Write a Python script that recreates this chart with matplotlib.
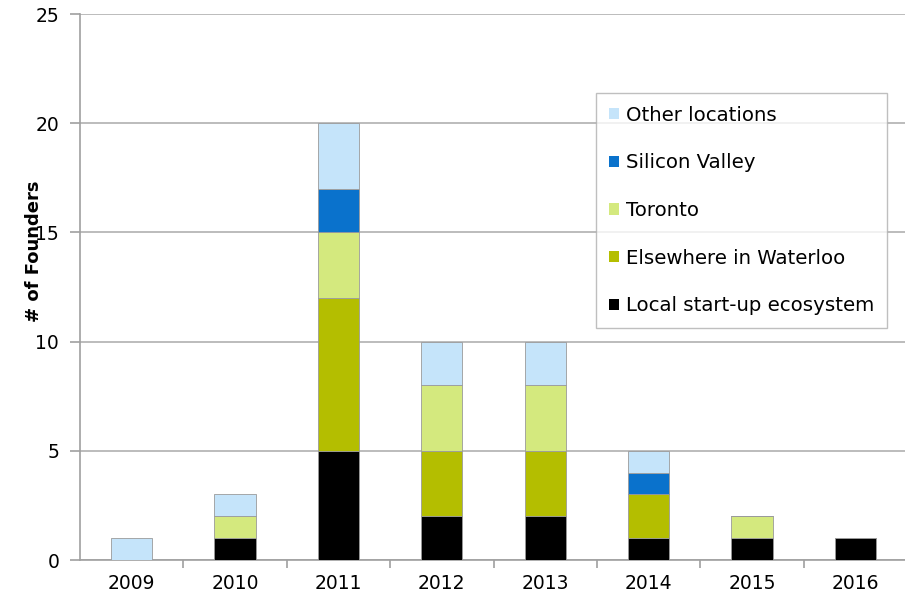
import matplotlib
matplotlib.use("Agg")
import matplotlib.pyplot as plt
import numpy as np
from matplotlib.patches import Patch

years = ["2009", "2010", "2011", "2012", "2013", "2014", "2015", "2016"]
local = [0, 1, 5, 2, 2, 1, 1, 1]
elsewhere = [0, 0, 7, 3, 3, 2, 0, 0]
toronto = [0, 1, 3, 3, 3, 0, 1, 0]
silicon = [0, 0, 2, 0, 0, 1, 0, 0]
other = [1, 1, 3, 2, 2, 1, 0, 0]

series = [
    ("Local start-up ecosystem", local, "#000000"),
    ("Elsewhere in Waterloo", elsewhere, "#B4BE00"),
    ("Toronto", toronto, "#D4E97E"),
    ("Silicon Valley", silicon, "#0A72CC"),
    ("Other locations", other, "#C5E4FA"),
]

plt.rcParams['font.family'] = ['DejaVu Sans']
fig = plt.figure(figsize=(9.05, 6.0), dpi=100)
ax = fig.add_axes([80/905, 40/600, 827/905, 546/600])

x = np.arange(len(years))
bottom = np.zeros(len(years))
for name, vals, col in series:
    v = np.array(vals, dtype=float)
    ax.bar(x, v, bottom=bottom, width=0.4, color=col, edgecolor="#9a9a9a",
           linewidth=0.6, zorder=3)
    bottom += v

ax.set_xlim(-0.5, len(years) - 0.5)
ax.set_ylim(0, 25)
ax.set_yticks([0, 5, 10, 15, 20, 25])
ax.yaxis.grid(True, color="#b0b0b0", linewidth=1.2, zorder=0)
ax.set_xticks(x)
ax.set_xticklabels(years)
ax.set_xticks(np.arange(len(years)) + 0.5, minor=True)
ax.tick_params(axis='x', which='major', length=0, pad=10, labelsize=13.5)
ax.tick_params(axis='x', which='minor', length=6, color="#a0a0a0", width=1.2)
ax.tick_params(axis='y', length=7, color="#a0a0a0", width=1.2, labelsize=13.5, pad=8)
for s in ["top", "right"]:
    ax.spines[s].set_visible(False)
for s in ["left", "bottom"]:
    ax.spines[s].set_color("#a0a0a0")
    ax.spines[s].set_linewidth(1.2)

fig.text(34/905, 1 - 251/600, "# of Founders", rotation=90, fontsize=13,
         fontweight="bold", ha="center", va="center")

handles = [Patch(facecolor=col, edgecolor="none", label=name) for name, _, col in series][::-1]
leg = ax.legend(handles=handles, loc="upper left",
                bbox_to_anchor=((596 - 80) / 827, 1 - (93 - 14) / 546),
                fontsize=14.2, frameon=True, fancybox=False, edgecolor="#b0b0b0",
                handlelength=0.5, handleheight=0.5, handletextpad=0.35,
                labelspacing=1.45, borderpad=0.65, borderaxespad=0)
leg.get_frame().set_linewidth(1.0)

fig.savefig("out.png", dpi=100)
